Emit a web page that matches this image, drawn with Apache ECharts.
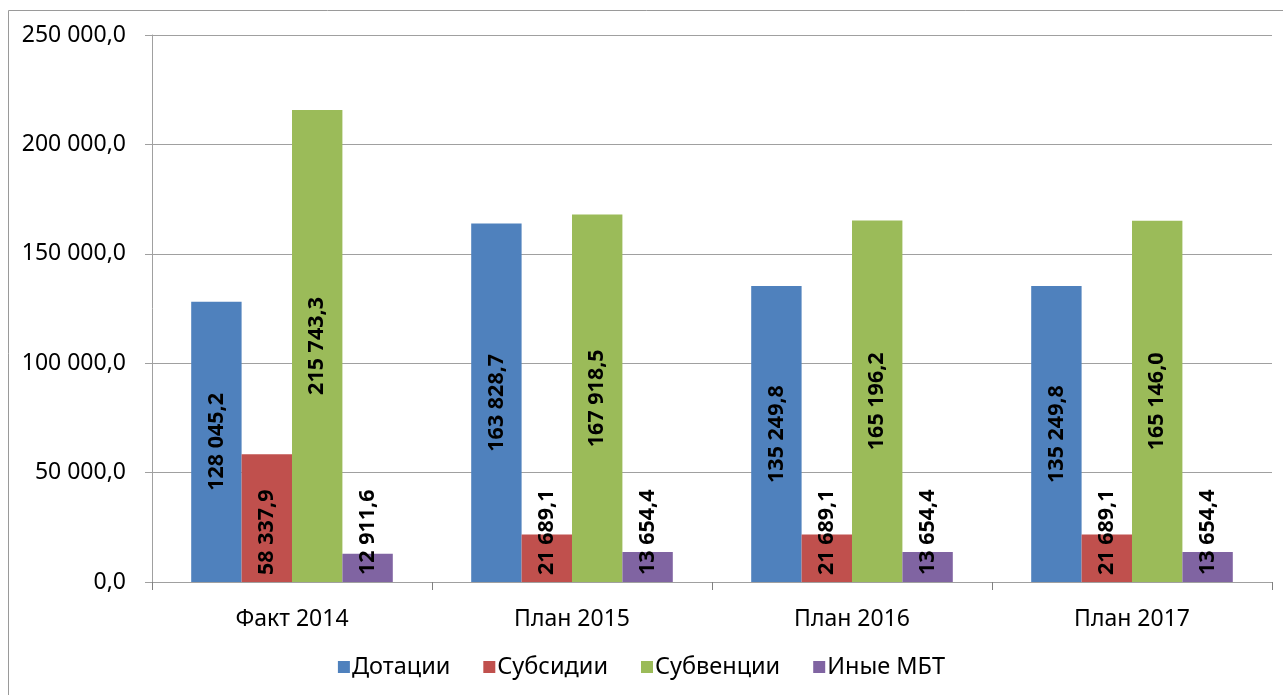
<!DOCTYPE html>
<html>
<head>
<meta charset="utf-8">
<script src="https://cdn.jsdelivr.net/npm/echarts@6/dist/echarts.min.js"></script>
<style>
html,body{margin:0;padding:0;background:#fff;}
#chart{width:1283px;height:695px;}
</style>
</head>
<body>
<div id="chart"></div>
<script>
const categories = ['Факт 2014', 'План 2015', 'План 2016', 'План 2017'];
const seriesNames = ['Дотации', 'Субсидии', 'Субвенции', 'Иные МБТ'];
const dotacii = [128045.2, 163828.7, 135249.8, 135249.8];
const subsidii = [58337.9, 21689.1, 21689.1, 21689.1];
const subvencii = [215743.3, 167918.5, 165196.2, 165146.0];
const inye = [12911.6, 13654.4, 13654.4, 13654.4];
const colors = ['#4F81BD', '#C0504D', '#9BBB59', '#8064A2'];
const yTicks = [0, 50000, 100000, 150000, 200000, 250000];

function fmt(v) {
  const s = Number(v).toFixed(1);
  const parts = s.split('.');
  const intp = parts[0].replace(/\B(?=(\d{3})+(?!\d))/g, ' ');
  return intp + ',' + parts[1];
}

const FONT = 'Noto Sans';
const labelBase = {
  show: true, rotate: 90, color: '#000', fontWeight: 'bold',
  fontFamily: FONT, fontSize: 21.5,
  formatter: p => fmt(p.value)
};
const centerLabel = Object.assign({}, labelBase, {position: 'inside'});
const bottomLabel = Object.assign({}, labelBase, {position: 'insideBottom', align: 'left', verticalAlign: 'middle', distance: 7});

const allData = [dotacii, subsidii, subvencii, inye];
const labelModes = [centerLabel, bottomLabel, centerLabel, bottomLabel];

const chart = echarts.init(document.getElementById('chart'), null, {renderer: 'canvas'});
chart.setOption({
  animation: false,
  color: colors,
  graphic: [{
    type: 'rect', shape: {x: 8.5, y: 10.5, width: 1290, height: 700},
    style: {fill: 'none', stroke: '#9a9a9a', lineWidth: 1}, silent: true
  }],
  grid: {left: 152, right: 11, top: 35, bottom: 113, containLabel: false},
  legend: {
    bottom: 11, left: 'center', itemWidth: 12, itemHeight: 12, itemGap: 33,
    icon: 'rect',
    textStyle: {fontFamily: FONT, fontSize: 23.5, color: '#000', padding: [0, 0, 0, -3]},
    data: seriesNames
  },
  xAxis: {
    type: 'category', data: categories,
    axisLine: {lineStyle: {color: '#a0a0a0', width: 1}},
    axisTick: {show: true, length: 8, lineStyle: {color: '#808080'}},
    axisLabel: {fontFamily: FONT, fontSize: 23, color: '#000', margin: 26}
  },
  yAxis: {
    type: 'value', min: yTicks[0], max: yTicks[yTicks.length - 1], interval: 50000,
    axisLine: {show: true, lineStyle: {color: '#a0a0a0', width: 1}},
    axisTick: {show: true, length: 7, lineStyle: {color: '#a0a0a0'}},
    splitLine: {lineStyle: {color: '#a0a0a0', width: 1}},
    axisLabel: {fontFamily: FONT, fontSize: 23, color: '#000', margin: 26, formatter: v => fmt(v)}
  },
  series: seriesNames.map((n, i) => ({
    name: n, type: 'bar', data: allData[i],
    barGap: '0%', barCategoryGap: '28%',
    label: labelModes[i],
    itemStyle: {color: colors[i]}
  }))
});
</script>
</body>
</html>
